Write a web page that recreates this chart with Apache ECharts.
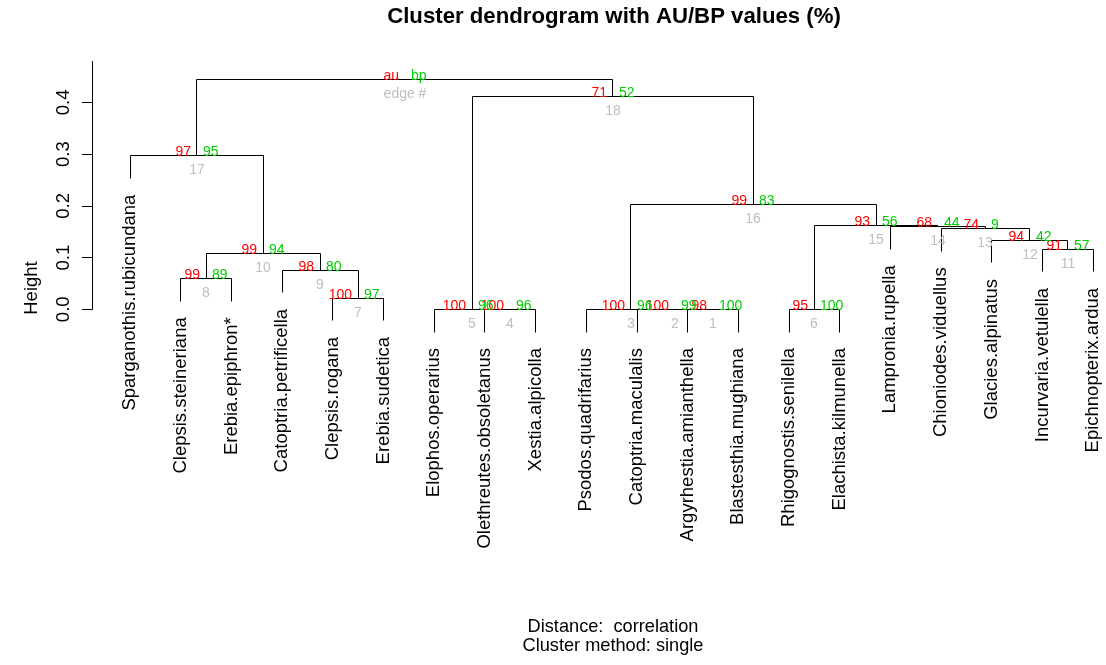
<!DOCTYPE html>
<html><head><meta charset="utf-8">
<script src="https://cdn.jsdelivr.net/npm/echarts@6/dist/echarts.min.js"></script>
<style>html,body{margin:0;padding:0;background:#fff}#c{width:1106px;height:665px}</style>
</head><body><div id="c"></div>
<script>
// ---- data ----
const leafLabels = ["Sparganothis.rubicundana","Clepsis.steineriana","Erebia.epiphron*","Catoptria.petrificella","Clepsis.rogana","Erebia.sudetica","Elophos.operarius","Olethreutes.obsoletanus","Xestia.alpicolla","Psodos.quadrifarius","Catoptria.maculalis","Argyrhestia.amianthella","Blastesthia.mughiana","Rhigognostis.senilella","Elachista.kilmunella","Lampronia.rupella","Chioniodes.viduellus","Glacies.alpinatus","Incurvaria.vetulella","Epichnopterix.ardua"];
// merge matrix (negative = leaf position, positive = edge number)
const mergeLeft  = [-12,-11,-10,-8,-7,-14,-5,-2,-4, 8,-19,-18,-17,-16, 6, 3,-1, 5,17];
const mergeRight = [-13,  1,  2,-9, 4,-15,-6,-3, 7, 9,-20, 11, 12, 13,14,15,10,16,18];
const mergeHeights = [0,0,0,0,0,0,0.0216,0.0595,0.0757,0.1078,0.1163,0.1337,0.156,0.160,0.162,0.202,0.2966,0.4106,0.4448];
const auValues = [98,100,100,100,100,95,100,99,98,99,91,94,74,68,93,99,97,71];
const bpValues = [100,99,96,96,96,100,97,89,80,94,57,42,9,44,56,83,95,52];
const yTicks = [0,0.1,0.2,0.3,0.4];
const hang = 0.044;

// ---- build tree geometry in data space ----
const nodeX = [];
const childX = c => c < 0 ? -c : nodeX[c - 1];
for (let k = 0; k < mergeLeft.length; k++) nodeX.push((childX(mergeLeft[k]) + childX(mergeRight[k])) / 2);
const leafEnd = new Array(leafLabels.length);
const childH = (c, h) => {
  if (c < 0) { leafEnd[-c - 1] = h - hang; return h - hang; }
  return mergeHeights[c - 1];
};
const edgeData = mergeLeft.map((l, k) => {
  const h = mergeHeights[k];
  return [childX(l), childX(mergeRight[k]), h, childH(l, h), childH(mergeRight[k], h)];
});
const leafData = leafLabels.map((n, i) => ({ value: [i + 1, leafEnd[i]], name: n }));
const pvData = nodeX.map((x, k) => ({
  value: [x, mergeHeights[k]],
  au: k < auValues.length ? String(auValues[k]) : 'au',
  bp: k < bpValues.length ? String(bpValues[k]) : 'bp',
  edge: k < auValues.length ? String(k + 1) : 'edge #'
}));

const FONT = '"Liberation Sans", Arial, sans-serif';
const crisp = v => Math.round(v - 0.5) + 0.5;

const chart = echarts.init(document.getElementById('c'), null, { renderer: 'canvas' });
function pvText(field, color, dx, dy, align) {
  return {
    type: 'custom', coordinateSystem: 'cartesian2d', clip: false, silent: true,
    data: pvData.map(d => d.value),
    renderItem: (params, api) => {
      const p = api.coord([api.value(0), api.value(1)]);
      const d = pvData[params.dataIndex];
      return {
        type: 'text', x: Math.round(p[0]) + dx, y: p[1] + dy,
        style: { text: d[field], fill: color, fontSize: 14, fontFamily: FONT, align: align, verticalAlign: 'middle' }
      };
    }
  };
}

chart.setOption({
  animation: false,
  backgroundColor: '#fff',
  grid: { left: 92, right: 0, top: 61.5, bottom: 355.7, containLabel: false },
  xAxis: { type: 'value', min: 0.2463, max: 20.254, show: false },
  yAxis: {
    type: 'value', min: 0, max: 0.479, position: 'left',
    splitLine: { show: false },
    axisLine: { show: true, lineStyle: { color: '#000', width: 1 } },
    axisTick: { show: true, length: 10, inside: false, customValues: yTicks, lineStyle: { color: '#000' } },
    axisLabel: { show: true, rotate: 90, margin: 19, customValues: yTicks, fontSize: 18.5, fontFamily: FONT, color: '#000',
      formatter: v => v.toFixed(1) }
  },
  graphic: [
    { type: 'text', x: 614, y: 17, style: { text: 'Cluster dendrogram with AU/BP values (%)', fontSize: 22.2, fontWeight: 'bold', fontFamily: FONT, fill: '#000', align: 'center', verticalAlign: 'middle' } },
    { type: 'text', x: 613, y: 626.6, style: { text: 'Distance:  correlation', fontSize: 18.2, fontFamily: FONT, fill: '#000', align: 'center', verticalAlign: 'middle' } },
    { type: 'text', x: 613, y: 646.4, style: { text: 'Cluster method: single', fontSize: 18.2, fontFamily: FONT, fill: '#000', align: 'center', verticalAlign: 'middle' } },
    { type: 'text', x: 31.7, y: 288, rotation: Math.PI / 2, style: { text: 'Height', fontSize: 18.5, fontFamily: FONT, fill: '#000', align: 'center', verticalAlign: 'middle' } }
  ],
  series: [
    {
      type: 'custom', coordinateSystem: 'cartesian2d', clip: false, silent: true,
      data: edgeData,
      renderItem: (params, api) => {
        const a = api.coord([api.value(0), api.value(3)]);
        const b = api.coord([api.value(0), api.value(2)]);
        const c = api.coord([api.value(1), api.value(2)]);
        const d = api.coord([api.value(1), api.value(4)]);
        const pts = [a, b, c, d].map(p => [crisp(p[0]), crisp(p[1])]);
        return { type: 'polyline', shape: { points: pts }, style: { stroke: '#000', lineWidth: 1, fill: null } };
      }
    },
    {
      type: 'custom', coordinateSystem: 'cartesian2d', clip: false, silent: true,
      data: leafData,
      renderItem: (params, api) => {
        const p = api.coord([api.value(0), api.value(1)]);
        return {
          type: 'text', x: p[0], y: p[1] + 16, rotation: Math.PI / 2,
          style: { text: leafLabels[params.dataIndex], fill: '#000', fontSize: 18.5, fontFamily: FONT, align: 'right', verticalAlign: 'middle' }
        };
      }
    },
    pvText('au', '#FF0000', -6, -3.3, 'right'),
    pvText('bp', '#00CD00', 6, -3.3, 'left'),
    pvText('edge', '#BEBEBE', 0, 14.7, 'center')
  ]
});
</script></body></html>
